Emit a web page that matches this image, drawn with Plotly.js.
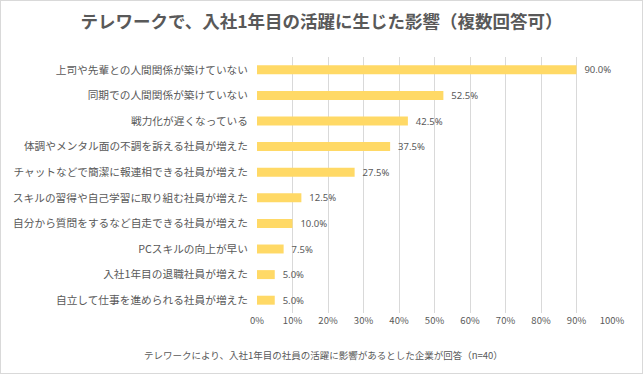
<!DOCTYPE html>
<html>
<head>
<meta charset="utf-8">
<script src="https://cdn.plot.ly/plotly-3.0.1.min.js"></script>
<style>
html,body{margin:0;padding:0;background:#fff;}
#chart{width:643px;height:374px;box-sizing:border-box;border:1px solid #d9d9d9;}
</style>
</head>
<body>
<div id="chart"></div>
<script>
const categories = [
  "上司や先輩との人間関係が築けていない",
  "同期での人間関係が築けていない",
  "戦力化が遅くなっている",
  "体調やメンタル面の不調を訴える社員が増えた",
  "チャットなどで簡潔に報連相できる社員が増えた",
  "スキルの習得や自己学習に取り組む社員が増えた",
  "自分から質問をするなど自走できる社員が増えた",
  "PCスキルの向上が早い",
  "入社1年目の退職社員が増えた",
  "自立して仕事を進められる社員が増えた"
];
const values = [90.0, 52.5, 42.5, 37.5, 27.5, 12.5, 10.0, 7.5, 5.0, 5.0];
const tickVals = [0, 10, 20, 30, 40, 50, 60, 70, 80, 90, 100];
const tickText = ["0%", "10%", "20%", "30%", "40%", "50%", "60%", "70%", "80%", "90%", "100%"];
const titleText = "テレワークで、入社1年目の活躍に生じた影響（複数回答可）";
const noteText = "テレワークにより、入社1年目の社員の活躍に影響があるとした企業が回答（n=40）";

const FONT = "Meiryo, 'Noto Sans CJK JP', sans-serif";
const trace = {
  type: "bar",
  orientation: "h",
  y: categories,
  x: values,
  width: 0.35,
  marker: {color: "#FFD966"},
  text: values.map(v => "  " + v.toFixed(1) + "%"),
  textposition: "outside",
  constraintext: "none",
  textfont: {family: "'Noto Sans', 'DejaVu Sans', sans-serif", size: 9.5, color: "#595959"},
  cliponaxis: false,
  hoverinfo: "none"
};
const layout = {
  width: 641, height: 372,
  margin: {l: 256, r: 30, t: 56, b: 60},
  paper_bgcolor: "#ffffff", plot_bgcolor: "#ffffff",
  font: {family: FONT, color: "#595959"},
  showlegend: false,
  title: {text: "<b>" + titleText + "</b>", font: {family: FONT, size: 17.5, color: "#595959"},
          x: 0.5, xanchor: "center", y: 0.9435, yanchor: "middle", yref: "container"},
  xaxis: {range: [0, 100], tickvals: tickVals, ticktext: tickText, showgrid: true,
          gridcolor: "#d9d9d9", gridwidth: 1, zeroline: false, showline: false,
          tickfont: {family: FONT, size: 9.5, color: "#595959"}, ticks: "", fixedrange: true},
  yaxis: {autorange: "reversed", showgrid: false, zeroline: false, showline: false, ticks: "",
          ticklabelstandoff: 8,
          tickfont: {family: FONT, size: 10.7, color: "#595959"}, fixedrange: true},
  bargap: 0.65,
  annotations: [{text: noteText, xref: "paper", yref: "paper", x: 0.186, y: -0.164,
                 xanchor: "center", yanchor: "middle", showarrow: false,
                 font: {family: FONT, size: 9.5, color: "#595959"}}]
};
Plotly.newPlot("chart", [trace], layout, {displayModeBar: false, staticPlot: true});
</script>
</body>
</html>
